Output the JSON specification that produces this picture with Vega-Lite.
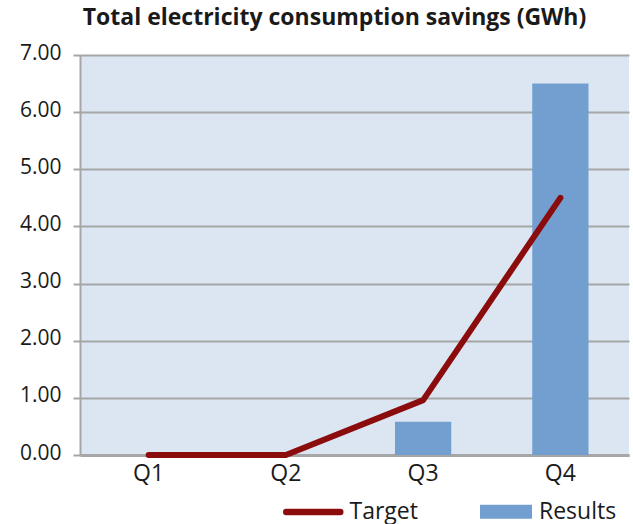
{
  "$schema": "https://vega.github.io/schema/vega-lite/v6.json",
  "width": 549,
  "height": 400,
  "autosize": {"type": "none"},
  "padding": {"left": 80, "top": 55, "right": 4, "bottom": 69},
  "background": "#ffffff",
  "config": {
    "view": {"fill": "#dce6f2", "stroke": null},
    "font": "Open Sans",
    "axis": {"labelFont": "Open Sans", "labelColor": "#1a1a1a"},
    "legend": {"labelFont": "Open Sans", "labelColor": "#1a1a1a", "padding": 0}
  },
  "title": {
    "text": "Total electricity consumption savings (GWh)",
    "fontSize": 23,
    "fontWeight": "bold",
    "font": "Open Sans",
    "color": "#1a1a1a",
    "anchor": "middle",
    "dx": -20,
    "offset": 12
  },
  "data": {
    "values": [
      {"quarter": "Q1", "target": 0, "results": 0},
      {"quarter": "Q2", "target": 0, "results": 0},
      {"quarter": "Q3", "target": 0.96, "results": 0.58},
      {"quarter": "Q4", "target": 4.5, "results": 6.5}
    ]
  },
  "encoding": {
    "x": {
      "field": "quarter",
      "type": "nominal",
      "scale": {"paddingInner": 0.59, "paddingOuter": 0.295},
      "axis": {
        "title": null,
        "labelAngle": 0,
        "labelFontSize": 23,
        "labelPadding": 7,
        "ticks": false,
        "domainColor": "#a6a6a6",
        "domainWidth": 3
      }
    }
  },
  "layer": [
    {
      "mark": {"type": "bar"},
      "encoding": {
        "y": {
          "field": "results",
          "type": "quantitative",
          "scale": {"domain": [0, 7], "nice": false},
          "axis": {
            "title": null,
            "values": [0, 1, 2, 3, 4, 5, 6, 7],
            "format": ".2f",
            "labelFontSize": 21,
            "labelPadding": 12,
            "labelOffset": -2,
            "tickSize": 7,
            "tickColor": "#a6a6a6",
            "tickWidth": 2,
            "gridColor": "#a6a6a6",
            "gridWidth": 2,
            "domainColor": "#a6a6a6",
            "domainWidth": 2
          }
        },
        "fill": {
          "datum": "Results",
          "scale": {"domain": ["Results"], "range": ["#729fcf"]},
          "legend": {
            "title": null,
            "orient": "none",
            "legendX": 400,
            "legendY": 430.7,
            "symbolType": "M-1,-0.27H1V0.27H-1Z",
            "symbolSize": 2704,
            "symbolStrokeWidth": 0,
            "labelFontSize": 23,
            "labelOffset": 7
          }
        }
      }
    },
    {
      "mark": {"type": "line", "strokeWidth": 6, "strokeCap": "round", "strokeJoin": "round"},
      "encoding": {
        "y": {"field": "target", "type": "quantitative"},
        "stroke": {
          "datum": "Target",
          "scale": {"domain": ["Target"], "range": ["#8b0c0c"]},
          "legend": {
            "title": null,
            "orient": "none",
            "legendX": 202.75,
            "legendY": 426.5,
            "symbolType": "M-1,0H1",
            "symbolSize": 2916,
            "symbolStrokeWidth": 6.5,
            "labelFontSize": 23,
            "labelOffset": 5.75,
            "encode": {"symbols": {"update": {"strokeCap": {"value": "round"}}}}
          }
        }
      }
    }
  ]
}
